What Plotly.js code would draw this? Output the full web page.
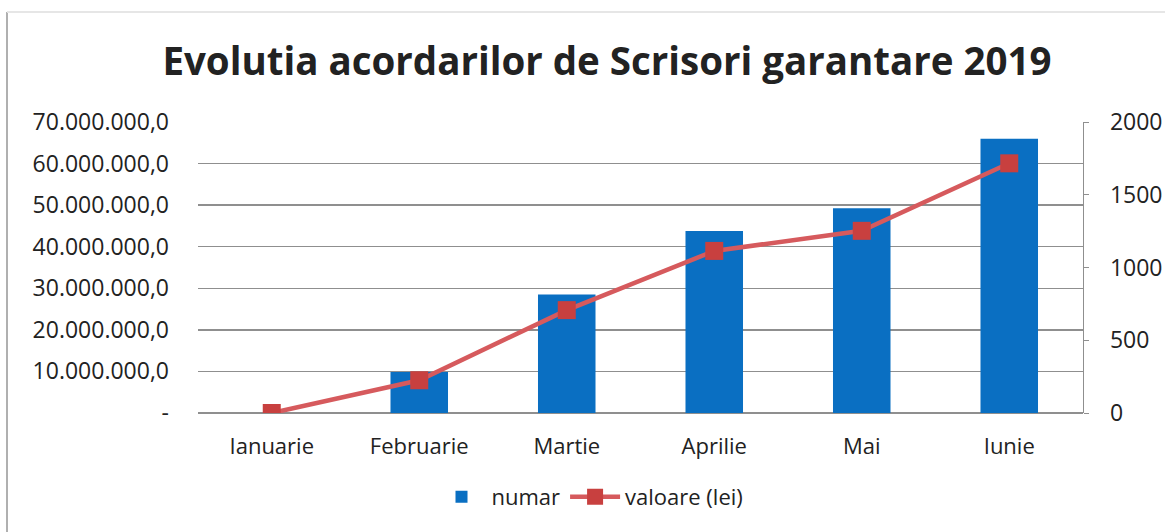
<!DOCTYPE html>
<html>
<head>
<meta charset="utf-8">
<script src="https://cdn.plot.ly/plotly-3.0.1.min.js"></script>
<style>
  html, body { margin: 0; padding: 0; background: #fff; }
  #chart { width: 1165px; height: 532px; }
</style>
</head>
<body>
<div id="chart"></div>
<script>
// Data
const categories = ["Ianuarie", "Februarie", "Martie", "Aprilie", "Mai", "Iunie"];
const numar = [0, 9880000, 28500000, 43800000, 49250000, 65950000];
const valoareLei = [0, 225, 707, 1114, 1252, 1716];

const leftTickVals = [0, 10000000, 20000000, 30000000, 40000000, 50000000, 60000000, 70000000];
const leftTickText = ["-", "10.000.000,0", "20.000.000,0", "30.000.000,0", "40.000.000,0", "50.000.000,0", "60.000.000,0", "70.000.000,0"];
const rightTickVals = [0, 500, 1000, 1500, 2000];
const rightTickText = ["0", "500", "1000", "1500", "2000"];

const FONT = "'Open Sans', 'Noto Sans', sans-serif";
const TXT = "#222222";

const traces = [
  {
    type: "bar",
    name: "numar",
    x: categories,
    y: numar,
    yaxis: "y",
    marker: { color: "#0A6FC2" },
    hoverinfo: "x+y"
  },
  {
    type: "scatter",
    mode: "lines+markers",
    name: "valoare (lei)",
    x: categories,
    y: valoareLei,
    yaxis: "y2",
    line: { color: "#D65A5D", width: 4.5 },
    marker: { symbol: "square", size: 18, color: "#C8403F" }
  }
];

const layout = {
  width: 1165,
  height: 532,
  paper_bgcolor: "#ffffff",
  plot_bgcolor: "#ffffff",
  font: { family: FONT, color: TXT, size: 22 },
  margin: { l: 198, r: 82, t: 122, b: 119, pad: 0 },
  title: {
    text: "<b>Evolutia acordarilor de Scrisori garantare 2019</b>",
    font: { family: FONT, size: 38.5, color: TXT },
    x: 607 / 1165, xref: "container", xanchor: "center",
    y: (532 - 62) / 532, yref: "container", yanchor: "middle"
  },
  bargap: 0.61,
  xaxis: {
    type: "category",
    showgrid: false,
    showline: false,
    zeroline: false,
    ticks: "",
    ticklabelstandoff: 18,
    tickfont: { family: FONT, size: 22, color: TXT }
  },
  yaxis: {
    range: [0, 70000000],
    tickmode: "array",
    tickvals: leftTickVals,
    ticktext: leftTickText,
    showgrid: true,
    gridcolor: "#8f8f8f",
    gridwidth: 1.3,
    zeroline: true,
    zerolinecolor: "#8f8f8f",
    zerolinewidth: 1.3,
    showline: false,
    ticks: "",
    ticklabelstandoff: 28,
    tickfont: { family: FONT, size: 23, color: TXT }
  },
  yaxis2: {
    overlaying: "y",
    side: "right",
    range: [0, 2000],
    tickmode: "array",
    tickvals: rightTickVals,
    ticktext: rightTickText,
    showgrid: false,
    zeroline: false,
    showline: true,
    linecolor: "#8f8f8f",
    linewidth: 1.3,
    ticks: "outside",
    ticklen: 5,
    tickcolor: "#8f8f8f",
    ticklabelstandoff: 16,
    tickfont: { family: FONT, size: 23, color: TXT }
  },
  legend: {
    orientation: "h",
    x: 590 / 1165, xref: "container", xanchor: "center",
    y: (532 - 497) / 532, yref: "container", yanchor: "middle",
    font: { family: FONT, size: 22, color: TXT },
    itemwidth: 50,
    tracegroupgap: 0,
    bgcolor: "rgba(0,0,0,0)"
  },
  shapes: [
    { type: "line", xref: "paper", yref: "paper",
      x0: (7 - 198) / 885, x1: (7 - 198) / 885, y0: (413 - 532) / 291, y1: (413 - 12) / 291,
      line: { color: "#b0b0b0", width: 2 } },
    { type: "line", xref: "paper", yref: "paper",
      x0: (7 - 198) / 885, x1: (1165 - 198) / 885, y0: (413 - 12) / 291, y1: (413 - 12) / 291,
      line: { color: "#e6e6e6", width: 2 } }
  ]
};

Plotly.newPlot("chart", traces, layout, { displayModeBar: false, staticPlot: true });
</script>
</body>
</html>
